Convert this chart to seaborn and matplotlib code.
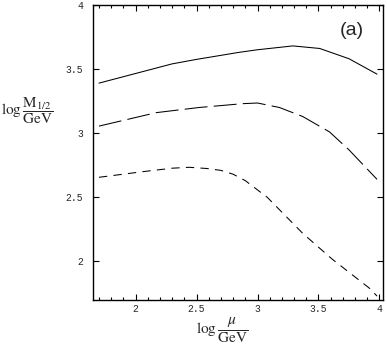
import numpy as np
import pandas as pd
import matplotlib
matplotlib.use("Agg")
import matplotlib.pyplot as plt
import seaborn as sns
from matplotlib.ticker import MultipleLocator

# kurva
x_solid = [1.70, 2.00, 2.30, 2.50, 2.85, 3.00, 3.29, 3.51, 3.75, 3.98]
y_solid = [3.39, 3.465, 3.54, 3.575, 3.63, 3.65, 3.68, 3.66, 3.58, 3.46]

x_long = [1.70, 2.17, 2.52, 2.88, 3.00, 3.18, 3.37, 3.59, 3.75, 3.98]
y_long = [3.055, 3.16, 3.20, 3.23, 3.235, 3.20, 3.13, 3.01, 2.87, 2.64]

x_short = [1.70, 2.06, 2.30, 2.44, 2.58, 2.70, 2.80, 2.90, 3.08, 3.37, 3.61, 3.92, 3.98]
y_short = [2.656, 2.70, 2.727, 2.734, 2.725, 2.71, 2.68, 2.63, 2.50, 2.22, 2.02, 1.79, 1.73]

x_ticks = [2, 2.5, 3, 3.5, 4]
y_ticks = [2, 2.5, 3, 3.5, 4]

df = pd.concat([
    pd.DataFrame({"x": x_solid, "y": y_solid, "kurva": "a"}),
    pd.DataFrame({"x": x_long, "y": y_long, "kurva": "b"}),
    pd.DataFrame({"x": x_short, "y": y_short, "kurva": "c"}),
])

sns.set_theme(style="ticks")
plt.rcParams["mathtext.fontset"] = "stix"

fig = plt.figure(figsize=(3.87, 3.46), dpi=100)
ax = fig.add_axes([0.240, 0.133, 0.750, 0.853])

sns.lineplot(data=df, x="x", y="y", style="kurva", color="black",
             dashes={"a": "", "b": (22, 6), "c": (8, 6)},
             sort=False, linewidth=0.75, legend=False, ax=ax)

ax.set_xlim(1.65, 4.03)
ax.set_ylim(1.70, 4.0)
ax.set_xticks(x_ticks)
ax.set_yticks(y_ticks)
ax.set_xticklabels(["2", "2.5", "3", "3.5", "4"])
ax.set_yticklabels(["2", "2.5", "3", "3.5", "4"])
ax.xaxis.set_minor_locator(MultipleLocator(0.1))
ax.tick_params(which="both", direction="in", top=True, right=True,
               color="black", width=0.8)
ax.tick_params(which="major", length=4)
ax.tick_params(which="minor", length=2)
ax.tick_params(axis="y", which="both", pad=7)
ax.tick_params(axis="x", which="both", pad=3)
for lab in ax.get_xticklabels() + ax.get_yticklabels():
    lab.set_family("Liberation Mono")
    lab.set_fontsize(7)
for sp in ax.spines.values():
    sp.set_color("black")
    sp.set_linewidth(1.0)
ax.set_xlabel("")
ax.set_ylabel("")

fig.text(0.003, 0.68, r"$\log\dfrac{\mathrm{M}_{1/2}}{\mathrm{GeV}}$",
         fontsize=11, ha="left", va="center")
fig.text(0.575, 0.045, r"$\log\dfrac{\mu}{\mathrm{GeV}}$",
         fontsize=11, ha="center", va="center")
ax.text(0.893, 0.912, "(a)", transform=ax.transAxes, fontsize=14,
        family=["Liberation Sans Narrow", "Liberation Sans"],
        ha="center", va="center")

fig.savefig("out.png", dpi=100)
